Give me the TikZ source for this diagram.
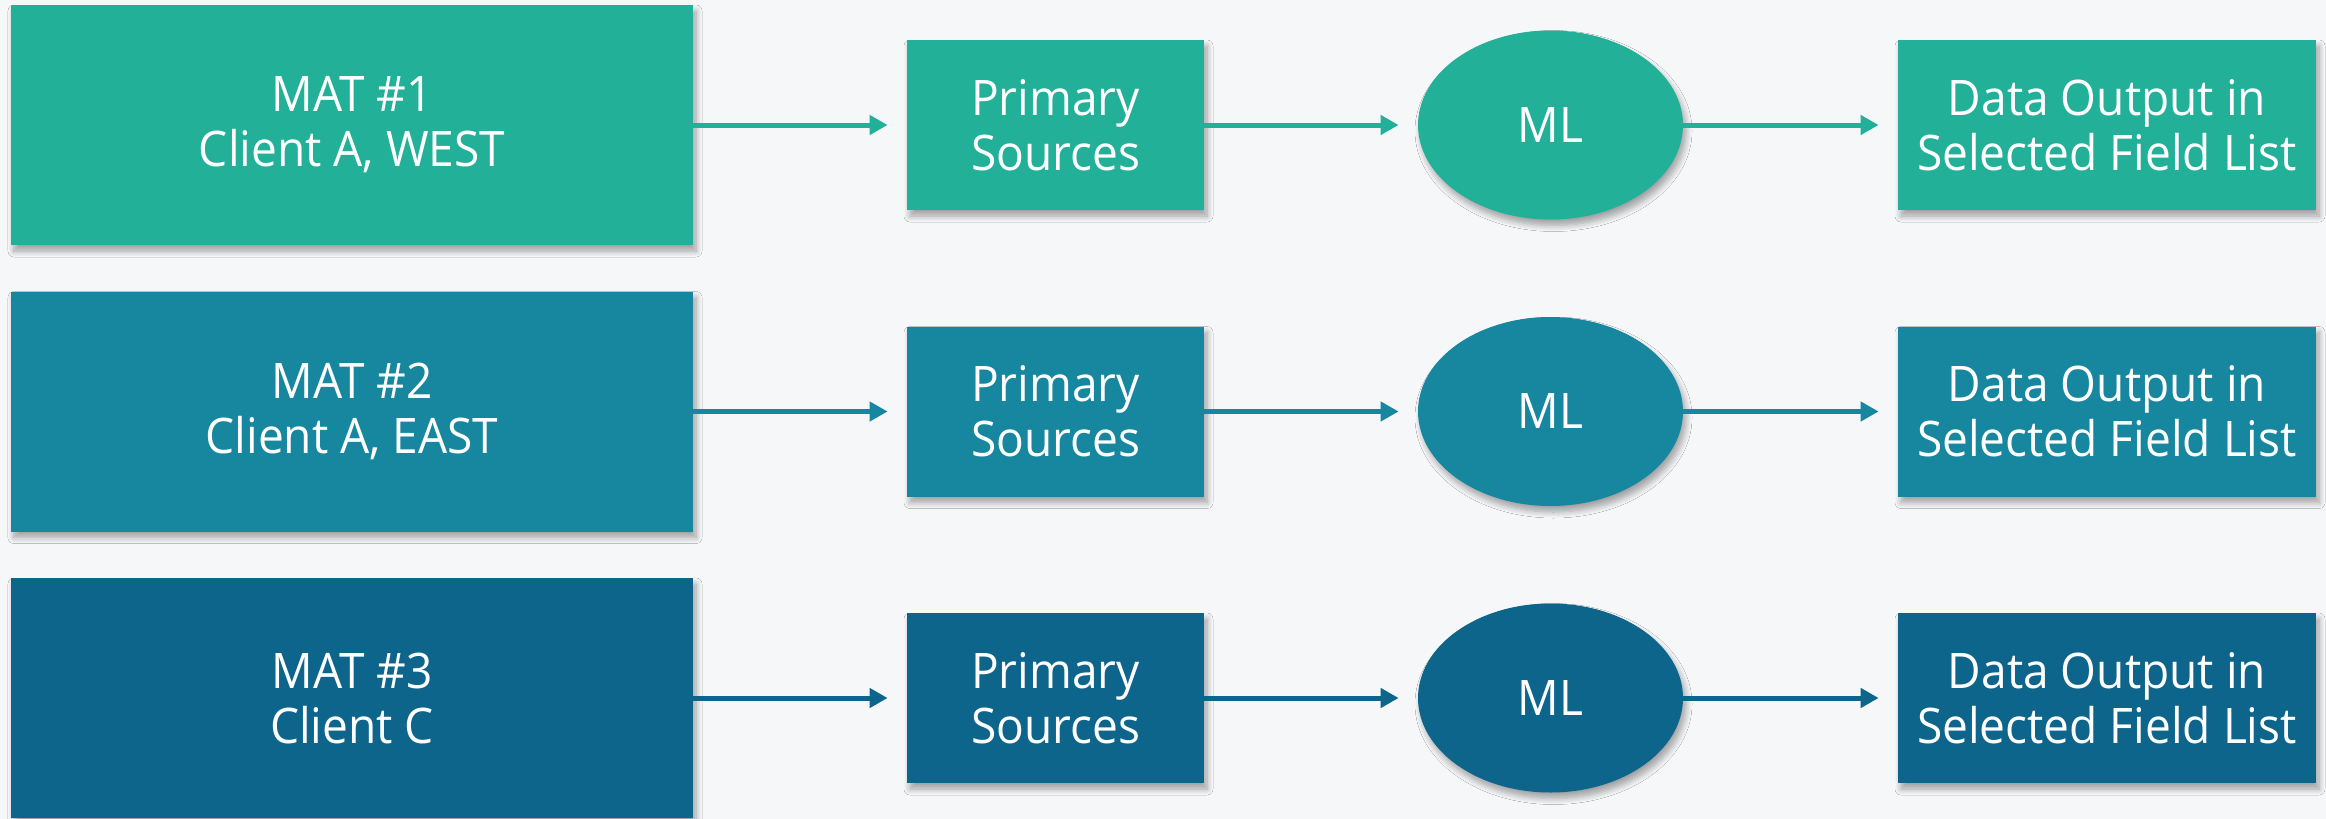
\documentclass[tikz,border=0pt]{standalone}
\usepackage{fontspec}
\setmainfont{Open Sans}[FakeStretch=0.94]
\usetikzlibrary{shapes.geometric,arrows.meta,shadows.blur}

\definecolor{pagebg}{HTML}{F6F7F9}
\definecolor{rowA}{HTML}{22B099}
\definecolor{rowB}{HTML}{16879F}
\definecolor{rowC}{HTML}{0E658B}

\tikzset{
  unit/.style={fill=#1, text=white, align=center, inner sep=0pt,
    font=\fontsize{24.5}{27.5}\selectfont,
    blur shadow={shadow xshift=1.5pt, shadow yshift=-3pt,
      shadow blur radius=3pt, shadow opacity=35, shadow blur steps=8}},
  matbox/.style={unit=#1, rectangle, minimum width=341pt, minimum height=120pt},
  srcbox/.style={unit=#1, rectangle, minimum width=148.5pt, minimum height=85pt},
  mlnode/.style={unit=#1, ellipse, minimum width=132.5pt, minimum height=94.5pt},
  outbox/.style={unit=#1, rectangle, minimum width=209pt, minimum height=85pt},
  flow/.style={draw=#1, line width=2.5pt,
    -{Triangle[length=9pt, width=9.5pt]}, shorten >=9.5pt}
}

\begin{document}
\begin{tikzpicture}[x=0.5pt, y=-0.5pt]
  % page area and background
  \useasboundingbox (0,0) rectangle (2326,819);
  \fill[pagebg] (0,0) rectangle (2326,819);

  % one pipeline per row: MAT -> Primary Sources -> ML -> Data Output
  \foreach \r/\yy/\col/\mat in {
      1/125/rowA/{MAT \#1\\Client A, WEST},
      2/411.5/rowB/{MAT \#2\\Client A, EAST},
      3/698/rowC/{MAT \#3\\Client C}} {
    \node[matbox=\col] (mat\r) at (352,\yy) {\mat};
    \node[srcbox=\col] (src\r) at (1055.5,\yy) {Primary\\Sources};
    \node[mlnode=\col] (ml\r)  at (1550.5,\yy) {ML};
    \node[outbox=\col] (out\r) at (2107,\yy) {Data Output in\\Selected Field List};
    \draw[flow=\col] (mat\r.east) -- (src\r.west);
    \draw[flow=\col] (src\r.east) -- (ml\r.west);
    \draw[flow=\col] (ml\r.east) -- (out\r.west);
  }
\end{tikzpicture}
\end{document}
